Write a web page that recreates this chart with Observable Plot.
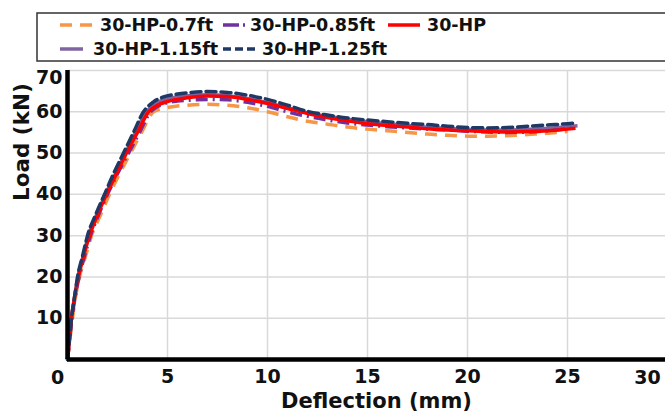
<!DOCTYPE html>
<html><head><meta charset="utf-8">
<script src="https://cdn.jsdelivr.net/npm/d3@7"></script>
<script src="https://cdn.jsdelivr.net/npm/@observablehq/plot@0.6"></script>
<style>
html,body{margin:0;padding:0;background:#fff;overflow:hidden}
#wrap{position:relative;width:665px;height:414px;overflow:hidden}
#legend{position:absolute;left:0;top:0}
</style></head><body><div id="wrap"></div>
<script>
// ---- data ----
const seriesNames = ["30-HP-0.7ft", "30-HP-0.85ft", "30-HP", "30-HP-1.15ft", "30-HP-1.25ft"];
const seriesColors = ["#F79646", "#7030A0", "#FF0000", "#8064A2", "#1F3864"];
const seriesDash = ["12,8", "12,5,2,5", null, null, "10,5"];

const hp07 = [[0,0],[0.1,4],[0.25,10],[0.4,15],[0.6,20],[0.9,25],[1.2,30],[1.65,35],[2.1,40],[2.6,45],[3.15,50],[3.7,55],[4.3,60],[4.8,60.8],[5.5,61.4],[6,61.6],[7,61.8],[8,61.6],[9,61.0],[10,60.0],[11,58.8],[12,57.7],[13,57.0],[14,56.3],[15,55.8],[16,55.4],[17,55.0],[18,54.6],[19,54.3],[20,54.1],[21,54.1],[22,54.2],[23,54.5],[24,54.8],[25,55.2]];
const hp085 = [[0,0],[0.1,4.5],[0.22,10],[0.38,15],[0.58,20],[0.85,25],[1.15,30],[1.55,35],[2.0,40],[2.5,45],[3.05,50],[3.6,55],[4.15,60],[4.6,61.5],[5,62.2],[5.5,62.6],[6,62.8],[7,63.0],[8,62.9],[9,62.3],[10,61.3],[11,60.0],[12,58.9],[13,58.0],[14,57.3],[15,56.8],[16,56.4],[17,56.1],[18,55.8],[19,55.6],[20,55.3],[21,55.1],[22,55.0],[23,55.1],[24,55.4],[25,55.9],[25.4,56.2]];
const hp = [[0,0],[0.1,5],[0.2,10],[0.35,15],[0.55,20],[0.8,25],[1.1,30],[1.5,35],[1.95,40],[2.45,45],[2.95,50],[3.5,55],[4.05,60],[4.5,61.6],[5,62.5],[5.5,63.0],[6,63.4],[7,63.8],[8,63.7],[9,63.0],[10,62.0],[11,60.8],[12,59.6],[13,58.6],[14,57.8],[15,57.1],[16,56.7],[17,56.3],[18,55.9],[19,55.6],[20,55.4],[21,55.2],[22,55.1],[23,55.2],[24,55.4],[25,55.8],[25.4,56.0]];
const hp115 = [[0,0],[0.1,5],[0.2,10],[0.35,15],[0.52,20],[0.78,25],[1.05,30],[1.45,35],[1.9,40],[2.4,45],[2.9,50],[3.4,55],[3.95,60],[4.4,62],[5,63.2],[5.5,63.6],[6,63.9],[7,64.1],[8,63.9],[9,63.2],[10,62.2],[11,61.0],[12,59.8],[13,58.9],[14,58.2],[15,57.6],[16,57.1],[17,56.7],[18,56.3],[19,56.0],[20,55.7],[21,55.6],[22,55.6],[23,55.8],[24,56.0],[25,56.4],[25.5,56.6]];
const hp125 = [[0,0],[0.1,5],[0.2,10],[0.35,15],[0.5,20],[0.75,25],[1.0,30],[1.4,35],[1.85,40],[2.3,45],[2.8,50],[3.3,55],[3.8,60],[4.3,62.4],[4.8,63.6],[5.5,64.3],[6,64.6],[7,64.9],[8,64.7],[9,64.0],[10,63.0],[11,61.6],[12,60.1],[13,59.2],[14,58.5],[15,58.0],[16,57.6],[17,57.2],[18,56.9],[19,56.5],[20,56.2],[21,56.1],[22,56.2],[23,56.5],[24,56.8],[25,57.1],[25.5,57.3]];
const seriesPoints = [hp07, hp085, hp, hp115, hp125];

const xTicks = [0, 5, 10, 15, 20, 25, 30];
const yTicks = [10, 20, 30, 40, 50, 60, 70];
const xLabel = "Deflection (mm)";
const yLabel = "Load (kN)";

// ---- build ----
const rows = seriesPoints.flatMap((pts, i) => pts.map(([x, y]) => ({series: seriesNames[i], x, y})));
const drawOrder = [3, 0, 1, 2, 4];
const font = "DejaVu Sans, Verdana, sans-serif";
const tickFont = 19;

const lineMarks = drawOrder.map(i => Plot.line(rows.filter(d => d.series === seriesNames[i]), {
  x: "x", y: "y", stroke: seriesColors[i], strokeWidth: 3.5,
  strokeDasharray: seriesDash[i] || undefined, curve: "monotone-x",
  strokeLinecap: i === 4 ? "round" : "butt"
}));

const chart = Plot.plot({
  width: 665, height: 414,
  marginTop: 70, marginLeft: 67, marginRight: 0, marginBottom: 55,
  x: {domain: [0, 30], range: [67, 667]},
  y: {domain: [0, 70]},
  style: {fontFamily: font, color: "#111", background: "#fff"},
  marks: [
    Plot.gridX(xTicks.slice(1), {stroke: "#d9d9d9", strokeOpacity: 1, strokeWidth: 1.5}),
    Plot.gridY(yTicks, {stroke: "#d9d9d9", strokeOpacity: 1, strokeWidth: 1.5}),
    ...lineMarks,
    Plot.ruleX([0], {y1: 0, y2: 70, stroke: "#000", strokeWidth: 4.5}),
    Plot.ruleY([0], {x1: 0, x2: 30, stroke: "#000", strokeWidth: 4.5}),
    Plot.axisY(yTicks.slice(0, -1), {tickSize: 0, tickPadding: 5, fontSize: tickFont, fontWeight: "bold", label: null}),
    Plot.text(yTicks.slice(-1), {y: d => d, frameAnchor: "left", textAnchor: "end", dx: -5, dy: 7, fontSize: tickFont, fontWeight: "bold", fill: "#111"}),
    Plot.axisX(xTicks.slice(1, -1), {tickSize: 0, tickPadding: 10, fontSize: tickFont, fontWeight: "bold", label: null}),
    Plot.text(xTicks.slice(0, 1), {x: d => d, frameAnchor: "bottom", lineAnchor: "top", dy: 11, dx: -10, fontSize: tickFont, fontWeight: "bold", fill: "#111"}),
    Plot.text(xTicks.slice(-1), {x: d => d, frameAnchor: "bottom", lineAnchor: "top", dy: 11, dx: -20, fontSize: tickFont, fontWeight: "bold", fill: "#111"}),
    Plot.text([xLabel], {frameAnchor: "bottom", lineAnchor: "bottom", dy: 48, dx: 10, fontSize: 21, fontWeight: "bold", fill: "#111"}),
    Plot.text([yLabel], {frameAnchor: "left", rotate: -90, dx: -45, dy: -14, fontSize: 21.5, fontWeight: "bold", fill: "#111"})
  ]
});
const wrap = document.getElementById("wrap");
wrap.appendChild(chart);

// ---- legend overlay ----
const lg = d3.select(wrap).append("svg").attr("id", "legend").attr("width", 665).attr("height", 66);
lg.append("rect").attr("x", 37).attr("y", 13).attr("width", 660).attr("height", 48)
  .attr("fill", "#fff").attr("stroke", "#333").attr("stroke-width", 1.5);
const legendPos = [
  {sx: 60, sw: 33, tx: 100, y: 25},
  {sx: 223, sw: 25, tx: 250, y: 25},
  {sx: 388, sw: 32, tx: 427, y: 25},
  {sx: 60, sw: 23, tx: 93, y: 49},
  {sx: 223, sw: 32, tx: 262, y: 49}
];
seriesNames.forEach((name, i) => {
  const p = legendPos[i];
  lg.append("line").attr("x1", p.sx).attr("x2", p.sx + p.sw).attr("y1", p.y).attr("y2", p.y)
    .attr("stroke", seriesColors[i]).attr("stroke-width", 3.5)
    .attr("stroke-dasharray", i === 1 ? "16,4,2,4" : (i === 4 ? "8,4" : seriesDash[i]));
  lg.append("text").attr("x", p.tx).attr("y", p.y).attr("dy", "0.36em")
    .attr("font-family", font).attr("font-weight", "bold").attr("font-size", 17.5).attr("fill", "#111")
    .text(name);
});
</script></body></html>
